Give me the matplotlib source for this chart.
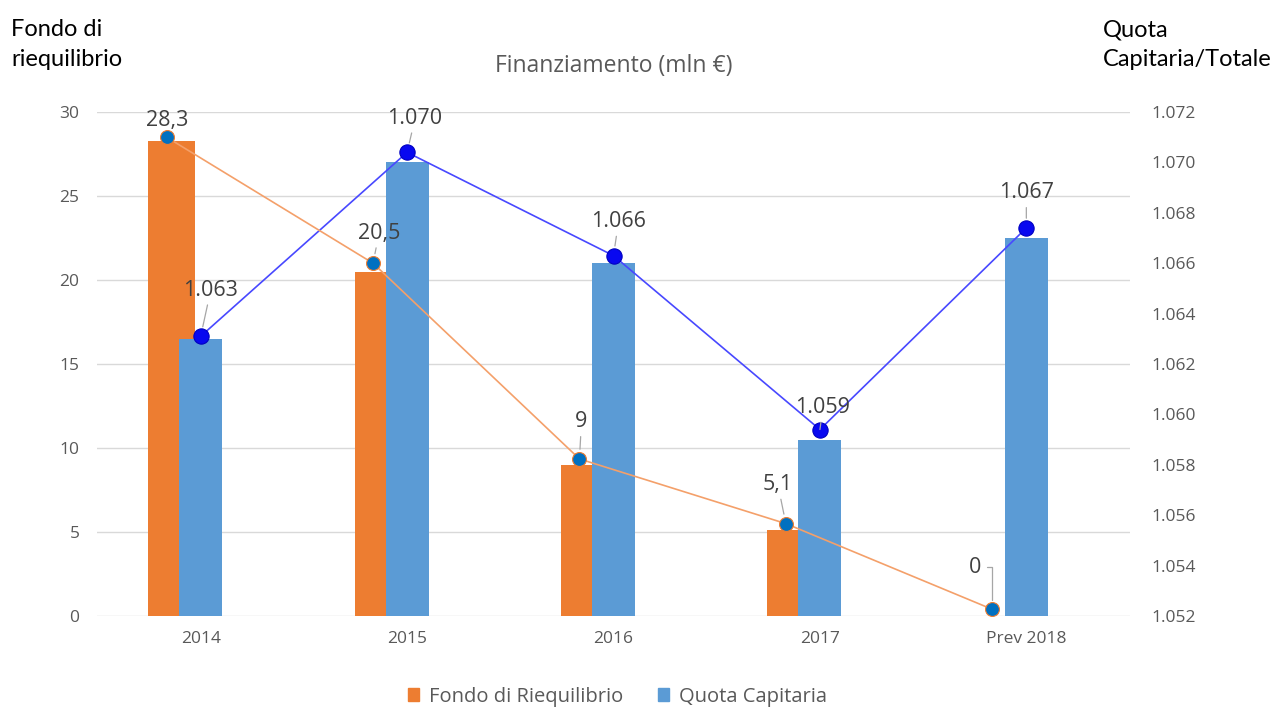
import matplotlib
matplotlib.use("Agg")
import matplotlib.pyplot as plt
from matplotlib.patches import Patch

plt.rcParams['font.family'] = ['Open Sans', 'DejaVu Sans']

years = ["2014", "2015", "2016", "2017", "Prev 2018"]
fondo = [28.3, 20.5, 9, 5.1, 0]
quota = [1.063, 1.070, 1.066, 1.059, 1.067]
# the marker lines sit a little off the bar tops in the original
fondo_line = [28.5, 21.0, 9.35, 5.5, 0.4]
quota_line = [1.0631, 1.0704, 1.0663, 1.0594, 1.0674]
fondo_labels = ["28,3", "20,5", "9", "5,1", "0"]
quota_labels = ["1.063", "1.070", "1.066", "1.059", "1.067"]

orange = "#ED7D31"
blue = "#5B9BD5"
grey = "#595959"

fig = plt.figure(figsize=(12.71, 7.08), dpi=100)
ax1 = fig.add_axes([0.0767, 0.1299, 0.8120, 0.7119])
ax2 = ax1.twinx()
ax3 = ax1.twinx()

x = list(range(len(years)))

# orange bars, left scale
ax1.bar([i - 0.14 for i in x], fondo, width=0.228, color=orange, zorder=2)
ax1.set_ylim(0, 30)
ax1.set_yticks(range(0, 31, 5))
ax1.set_xlim(-0.5, 4.5)
ax1.set_xticks(x)
ax1.set_xticklabels(years)
ax1.grid(axis="y", color="#d9d9d9", lw=1, zorder=0)
ax1.tick_params(axis="y", length=0, pad=13, labelsize=12.5, labelcolor=grey)
ax1.tick_params(axis="x", length=0, pad=11, labelsize=12.5, labelcolor=grey)
for s in ax1.spines.values():
    s.set_visible(False)

# blue bars + line, right scale
ax2.bar(x, quota, width=0.208, color=blue, zorder=2)
ax2.set_ylim(1.052, 1.072)
ax2.set_yticks([1.052 + 0.002 * k for k in range(11)])
ax2.set_yticklabels(["%.3f" % (1.052 + 0.002 * k) for k in range(11)])
ax2.tick_params(axis="y", length=0, pad=16, labelsize=12.5, labelcolor=grey)
for s in ax2.spines.values():
    s.set_visible(False)
ax2.plot(x, quota_line, color="#4848ff", lw=1.2, marker="o", ms=11,
         mfc="#0808f0", mec="#0000c0", mew=0.8, zorder=4)

lead = dict(arrowstyle="-", color="#a6a6a6", lw=0.9, shrinkA=1, shrinkB=7)
q_off = [(10, 46), (8, 34), (5, 34), (3, 22), (0, 35)]
for i in x:
    ax2.annotate(quota_labels[i], (x[i], quota_line[i]), xytext=q_off[i],
                 textcoords="offset pixels", ha="center", va="center",
                 fontsize=15.5, color="#404040", arrowprops=lead, zorder=5)

# orange line on its own layer so it passes over the blue bars
fx = [i - 0.165 for i in x]
ax3.set_ylim(0, 30)
ax3.axis("off")
ax3.plot(fx, fondo_line, color="#F4A06A", lw=1.2, marker="o", ms=10,
         mfc="#0070C0", mec=orange, mew=0.8, zorder=4)
f_off = [(1, 17), (6, 30), (2, 37), (-8, 39), (-17, 42)]
for i in x:
    if i == 4:
        ax3.annotate(fondo_labels[i], (fx[i], fondo_line[i]), xytext=f_off[i],
                     textcoords="offset pixels", ha="center", va="center",
                     fontsize=15.5, color="#404040",
                     arrowprops=dict(arrowstyle="-", color="#a6a6a6", lw=0.9,
                                     shrinkA=2, shrinkB=7, relpos=(1, 0.5),
                                     connectionstyle="angle,angleA=0,angleB=90,rad=0"))
    else:
        ax3.annotate(fondo_labels[i], (fx[i], fondo_line[i]), xytext=f_off[i],
                     textcoords="offset pixels", ha="center", va="center",
                     fontsize=15.5, color="#404040", arrowprops=lead)

fig.text(0.4827, 0.907, "Finanziamento (mln €)", ha="center", va="center",
         fontsize=16.5, color=grey)
fig.text(0.009, 0.973, "Fondo di\nriequilibrio", family="Lato", ha="left",
         va="top", fontsize=17, color="black", linespacing=1.55)
fig.text(0.868, 0.973, "Quota\nCapitaria/Totale", family="Lato", ha="left",
         va="top", fontsize=17, color="black", linespacing=1.55)

handles = [Patch(color=orange, label="Fondo di Riequilibrio"),
           Patch(color=blue, label="Quota Capitaria")]
fig.legend(handles=handles, loc="center", bbox_to_anchor=(0.486, 0.016),
           ncol=2, frameon=False, fontsize=14.5, handlelength=0.55,
           handleheight=0.6, handletextpad=0.5, columnspacing=1.7,
           labelcolor=grey)

fig.savefig("out.png", dpi=100)
